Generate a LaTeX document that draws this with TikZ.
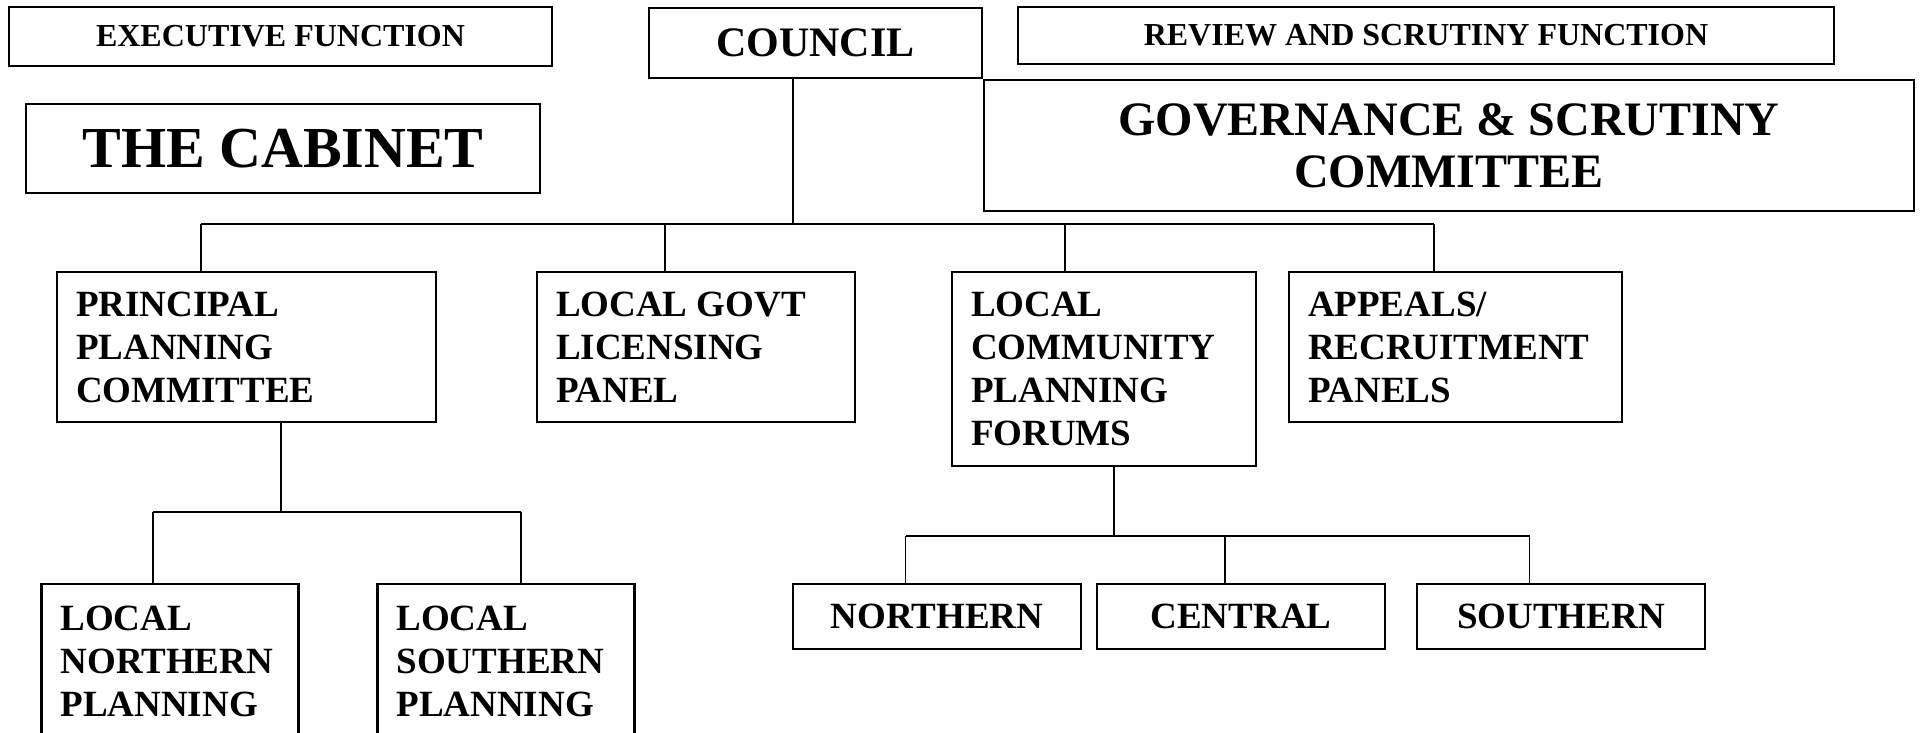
\documentclass[tikz,border=0pt]{standalone}
\usepackage{fontspec}
\setmainfont{Liberation Serif}
\begin{document}
\begin{tikzpicture}[x=1pt,y=-1pt,
  box/.style={draw, line width=2.2pt, inner sep=0pt, font=\bfseries},
  lbox/.style={box, inner xsep=19pt, align=left, font=\fontsize{37}{43}\selectfont\bfseries,
    execute at begin node={\spaceskip=0pt\relax}},
  sbox/.style={box, font=\fontsize{37}{43}\selectfont\bfseries, minimum width=288, minimum height=65},
  link/.style={line width=1.6pt}]
\useasboundingbox (0,0) rectangle (1922,733);
\fill[white] (0,0) rectangle (1922,733);
\clip (0,0) rectangle (1922,733);

% top row
\node[box, minimum width=543, minimum height=59, font=\fontsize{32}{37}\selectfont\bfseries] (exec) at (280.5,36.5) {EXECUTIVE FUNCTION};
\node[box, minimum width=333, minimum height=70, font=\fontsize{42}{48}\selectfont\bfseries] (council) at (815.5,43) {COUNCIL};
\node[box, minimum width=816, minimum height=57, font=\fontsize{32}{37}\selectfont\bfseries] (review) at (1426,35.5) {REVIEW AND SCRUTINY FUNCTION};
\node[box, minimum width=514.5, minimum height=89, font=\fontsize{58}{66}\selectfont\bfseries] (cabinet) at (283,148.5) {THE CABINET};
\node[box, minimum width=929.5, minimum height=131, align=center, font=\fontsize{48}{52}\selectfont\bfseries] (gov) at (1449,145.5) {GOVERNANCE \& SCRUTINY\\COMMITTEE};

% second row
\node[lbox, text width=341, minimum height=150] (ppc) at (246.5,347) {PRINCIPAL\\PLANNING\\COMMITTEE};
\node[lbox, text width=280, minimum height=150] (lic) at (696,347) {LOCAL GOVT\\LICENSING\\PANEL};
\node[lbox, text width=266, minimum height=194] (lcpf) at (1104,369) {LOCAL\\COMMUNITY\\PLANNING\\FORUMS};
\node[lbox, text width=295, minimum height=150] (app) at (1455.5,347) {APPEALS/\\RECRUITMENT\\PANELS};

% third row
\node[lbox, text width=219, minimum height=154] (lnp) at (170,661) {LOCAL\\NORTHERN\\PLANNING};
\node[lbox, text width=219, minimum height=154] (lsp) at (506,661) {LOCAL\\SOUTHERN\\PLANNING};
\node[sbox] (north) at (937,616.5) {NORTHERN};
\node[sbox, minimum width=287.5] (central) at (1241,616.5) {CENTRAL};
\node[sbox] (south) at (1561,616.5) {SOUTHERN};

% connectors from council
\coordinate (c0) at ([xshift=-22.5pt]council.south);
\coordinate (d1) at (201,224);
\coordinate (d2) at (665,224);
\coordinate (d3) at (1065,224);
\coordinate (d4) at (1434,224);
\draw[link] (c0) -- (c0 |- d1);
\draw[link] (d1) -- (d4);
\draw[link] (d1) -- (d1 |- ppc.north);
\draw[link] (d2) -- (d2 |- lic.north);
\draw[link] (d3) -- (d3 |- lcpf.north);
\draw[link] (d4) -- (d4 |- app.north);

% connectors from principal planning
\coordinate (p0) at (281,422);
\coordinate (p1) at (153,512);
\coordinate (p2) at (521,512);
\draw[link] (p0 |- ppc.south) -- (p0 |- p1);
\draw[link] (p1) -- (p2);
\draw[link] (p1) -- (p1 |- lnp.north);
\draw[link] (p2) -- (p2 |- lsp.north);

% connectors from community forums
\coordinate (f0) at (1114,466);
\coordinate (f1) at (905.5,536);
\coordinate (f2) at (1225,536);
\coordinate (f3) at (1529.5,536);
\draw[link] (f0 |- lcpf.south) -- (f0 |- f1);
\draw[link] (f1) -- (f3);
\draw[link] (f1) -- (f1 |- north.north);
\draw[link] (f2) -- (f2 |- central.north);
\draw[link] (f3) -- (f3 |- south.north);
\end{tikzpicture}
\end{document}
